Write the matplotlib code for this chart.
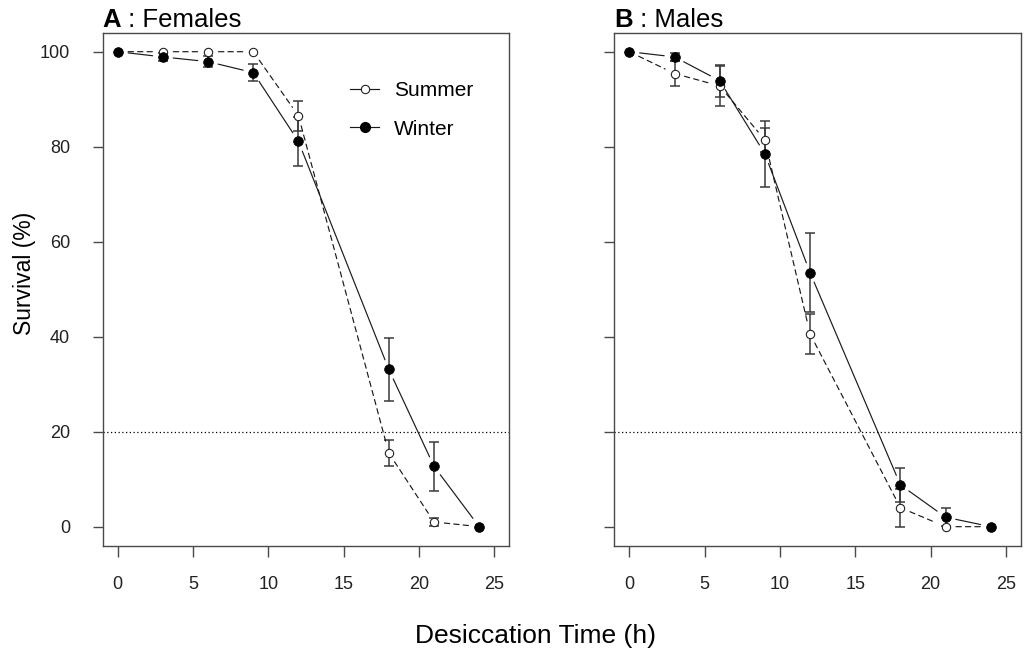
import matplotlib
matplotlib.use("Agg")
import matplotlib.pyplot as plt
import numpy as np
from matplotlib.lines import Line2D

plt.rcParams['font.family'] = ['Liberation Sans', 'DejaVu Sans']

# ---------------- data ----------------
time_h = [0, 3, 6, 9, 12, 18, 21, 24]

fem_summer = [100, 100, 100, 100, 86.5, 15.5, 1.0, 0]
fem_summer_se = [0, 0, 0, 0, 3.2, 2.7, 0.9, 0]
fem_winter = [100, 98.9, 97.9, 95.6, 81.1, 33.1, 12.7, 0]
fem_winter_se = [0, 0.9, 1.2, 1.8, 5.1, 6.7, 5.2, 0]

male_summer = [100, 95.4, 92.8, 81.4, 40.6, 4.0, 0, 0]
male_summer_se = [0, 2.6, 4.2, 2.5, 4.2, 4.0, 0, 0]
male_winter = [100, 98.9, 93.9, 78.5, 53.5, 8.8, 2.0, 0]
male_winter_se = [0, 0.9, 3.4, 7.0, 8.4, 3.5, 1.9, 0]

threshold = 20
x_ticks = [0, 5, 10, 15, 20, 25]
y_ticks = [0, 20, 40, 60, 80, 100]
series_labels = ["Summer", "Winter"]
panel_letters = ["A", "B"]
panel_names = [" : Females", " : Males"]

# ---------------- style ----------------
DASH = (0, (4.5, 3.5))
FRAME = "#4a4a4a"
ERR = "#3a3a3a"

fig = plt.figure(figsize=(10.26, 6.58), dpi=100)
axA = fig.add_axes([0.1001, 0.1707, 0.3963, 0.7796])
axB = fig.add_axes([0.5987, 0.1707, 0.3963, 0.7796])


def draw_series(ax, t, y, se, ls, filled):
    t = np.asarray(t, float)
    y = np.asarray(y, float)
    se = np.asarray(se, float)
    m = se > 0
    ax.errorbar(t[m], y[m], yerr=se[m], fmt="none", ecolor=ERR,
                elinewidth=1.1, capsize=3.8, capthick=1.1, zorder=2)
    # lines with gaps around points (R type = "b")
    for i in range(len(t) - 1):
        ax.annotate("", xy=(t[i + 1], y[i + 1]), xytext=(t[i], y[i]),
                    xycoords="data", textcoords="data",
                    arrowprops=dict(arrowstyle="-", shrinkA=7.5, shrinkB=7.5,
                                    lw=0.85, color="#1a1a1a", linestyle=ls),
                    zorder=3)
    if filled:
        ax.plot(t, y, ls="none", marker="o", ms=7.0, mfc="black",
                mec="black", mew=0.5, zorder=4)
    else:
        ax.plot(t, y, ls="none", marker="o", ms=6.0, mfc="white",
                mec="#222222", mew=0.8, zorder=4)


def style_axes(ax, show_ylabels):
    ax.set_xlim(-1, 26)
    ax.set_ylim(-4, 104)
    ax.set_xticks(x_ticks)
    ax.set_yticks(y_ticks)
    if not show_ylabels:
        ax.set_yticklabels([])
    for s in ax.spines.values():
        s.set_color(FRAME)
        s.set_linewidth(1.0)
    ax.tick_params(axis="x", length=8, width=1.0, color=FRAME, pad=14,
                   labelsize=13, labelcolor="#222222")
    ax.tick_params(axis="y", length=7.5, width=1.0, color=FRAME, pad=16,
                   labelsize=13, labelcolor="#222222")
    ax.axhline(threshold, ls=(0, (1, 2)), color="black", lw=0.9, zorder=1)


def add_title(ax, letter, name):
    t1 = ax.text(0, 1.0117, letter, transform=ax.transAxes, fontsize=18.5,
                 fontweight="bold", ha="left", va="baseline", color="black")
    ax.annotate(name, xy=(1, 0), xycoords=t1, fontsize=18.5, ha="left",
                va="bottom", color="black")


draw_series(axA, time_h, fem_summer, fem_summer_se, DASH, False)
draw_series(axA, time_h, fem_winter, fem_winter_se, "-", True)
draw_series(axB, time_h, male_summer, male_summer_se, DASH, False)
draw_series(axB, time_h, male_winter, male_winter_se, "-", True)

style_axes(axA, True)
style_axes(axB, False)
add_title(axA, panel_letters[0], panel_names[0])
add_title(axB, panel_letters[1], panel_names[1])

handles = [
    Line2D([], [], color="#1a1a1a", lw=0.85, marker="o", ms=6.0,
           mfc="white", mec="#222222", mew=0.8),
    Line2D([], [], color="#1a1a1a", lw=0.85, marker="o", ms=7.0,
           mfc="black", mec="black"),
]
axA.legend(handles, series_labels, loc="upper left",
           bbox_to_anchor=(0.608, 0.906), frameon=False, fontsize=15,
           handlelength=1.4, handletextpad=0.7, labelspacing=0.95,
           borderpad=0, borderaxespad=0)

fig.text(0.024, 0.585, "Survival (%)", rotation=90, ha="center",
         va="center", fontsize=16.5)
fig.text(0.522, 0.0334, "Desiccation Time (h)", ha="center", va="center",
         fontsize=19)

fig.savefig("out.png", dpi=100)
